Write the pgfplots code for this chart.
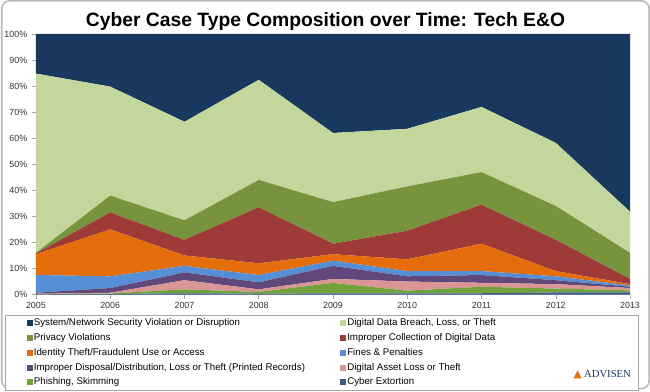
\documentclass[border=0pt]{standalone}
\usepackage{pgfplots}
\pgfplotsset{compat=1.18}
\usepackage{pgfplotstable}
\usepackage{fontspec}
\setmainfont{Liberation Sans}
\newfontfamily\dejavu{DejaVu Sans}
\newfontfamily\serifx{Liberation Serif}
\definecolor{cSN}{HTML}{18385E}
\definecolor{cDDB}{HTML}{C3D69B}
\definecolor{cPV}{HTML}{77933C}
\definecolor{cIC}{HTML}{9E3A38}
\definecolor{cIT}{HTML}{E46C0A}
\definecolor{cFi}{HTML}{558ED5}
\definecolor{cID}{HTML}{60497A}
\definecolor{cDA}{HTML}{D99694}
\definecolor{cPh}{HTML}{71A23C}
\definecolor{cCE}{HTML}{3F5F8A}
\pgfplotstableread{
year CE  Ph  DA  ID  Fi  IT   IC   PV   DDB  SN
2005 0.1 0.1 0.1 0.4 6.8 8.0  0.3  0.2  68.8 15.2
2006 0.2 0.2 0.3 1.8 4.5 18.0 6.5  6.5  41.8 20.2
2007 0.5 1.5 3.5 3.0 2.5 4.0  6.0  7.5  37.8 33.7
2008 0.3 0.7 1.0 2.7 2.8 4.5  21.5 10.5 38.4 17.6
2009 0.5 4.0 1.5 5.0 2.0 2.5  4.0  16.0 26.5 38.0
2010 0.5 1.0 3.5 2.0 2.0 4.5  11.0 17.0 22.1 36.4
2011 0.5 2.5 1.5 3.0 1.5 10.5 15.0 12.5 25.0 28.0
2012 0.8 1.5 1.7 1.5 1.5 2.0  12.0 13.0 24.2 41.8
2013 0.8 0.8 0.9 0.5 0.5 0.5  2.0  10.0 15.8 68.2
}\data
\pgfplotsset{sq/.style={legend image code/.code={\fill[##1] (0pt,-2.2pt) rectangle (4.4pt,2.2pt);}}}
\begin{document}
\begin{tikzpicture}
\draw[gray!55, line width=1.2pt, rounded corners=6pt] (0.6pt,-0.6pt) rectangle (486.9pt,-291.9pt);
\node[font=\bfseries\fontsize{14.5}{16}\selectfont] at (243.75pt,-16.5pt) {Cyber Case Type Composition over Time: Tech E\&O};
\begin{axis}[
  at={(26.25pt,-221.25pt)}, anchor=south west,
  scale only axis, width=446.25pt, height=195.75pt,
  xmin=2005, xmax=2013, ymin=0, ymax=100,
  stack plots=y,
  axis x line*=bottom, axis y line*=left,
  axis line style={gray!70, -},
  tick style={gray!70, thin}, major tick length=3pt, tick align=outside,
  xtick={2005,2006,2007,2008,2009,2010,2011,2012,2013},
  xticklabels={2005,2006,2007,2008,2009,2010,2011,2012,2013},
  ytick={0,10,20,30,40,50,60,70,80,90,100},
  yticklabels={0\%,10\%,20\%,30\%,40\%,50\%,60\%,70\%,80\%,90\%,100\%},
  tick label style={font=\fontsize{6.7}{7}\selectfont, color=black!80},
  xticklabel style={yshift=1pt},
  legend columns=2, legend cell align=left,
  legend style={at={(-0.0521,-0.0766)}, anchor=north west, draw=gray!70, line width=0.6pt,
    inner xsep=16pt, inner ysep=1.8pt, row sep=2.1pt,
    font=\fontsize{7.3}{8}\selectfont,
    nodes={inner sep=1pt, text height=5.4pt, text depth=1.6pt}},
]
\addlegendimage{sq, fill=cSN, draw=none}
\addlegendentry{\makebox[229pt][l]{System/Network Security Violation or Disruption}}
\addlegendimage{sq, fill=cDDB, draw=none}
\addlegendentry{\makebox[202pt][l]{Digital Data Breach, Loss, or Theft}}
\addlegendimage{sq, fill=cPV, draw=none}
\addlegendentry{\makebox[229pt][l]{Privacy Violations}}
\addlegendimage{sq, fill=cIC, draw=none}
\addlegendentry{\makebox[202pt][l]{Improper Collection of Digital Data}}
\addlegendimage{sq, fill=cIT, draw=none}
\addlegendentry{\makebox[229pt][l]{Identity Theft/Fraudulent Use or Access}}
\addlegendimage{sq, fill=cFi, draw=none}
\addlegendentry{\makebox[202pt][l]{Fines \& Penalties}}
\addlegendimage{sq, fill=cID, draw=none}
\addlegendentry{\makebox[229pt][l]{Improper Disposal/Distribution, Loss or Theft (Printed Records)}}
\addlegendimage{sq, fill=cDA, draw=none}
\addlegendentry{\makebox[202pt][l]{Digital Asset Loss or Theft}}
\addlegendimage{sq, fill=cPh, draw=none}
\addlegendentry{\makebox[229pt][l]{Phishing, Skimming}}
\addlegendimage{sq, fill=cCE, draw=none}
\addlegendentry{\makebox[202pt][l]{Cyber Extortion}}
\addplot[fill=cCE, draw=none] table[x=year, y=CE] {\data} \closedcycle;
\addplot[fill=cPh, draw=none] table[x=year, y=Ph] {\data} \closedcycle;
\addplot[fill=cDA, draw=none] table[x=year, y=DA] {\data} \closedcycle;
\addplot[fill=cID, draw=none] table[x=year, y=ID] {\data} \closedcycle;
\addplot[fill=cFi, draw=none] table[x=year, y=Fi] {\data} \closedcycle;
\addplot[fill=cIT, draw=none] table[x=year, y=IT] {\data} \closedcycle;
\addplot[fill=cIC, draw=none] table[x=year, y=IC] {\data} \closedcycle;
\addplot[fill=cPV, draw=none] table[x=year, y=PV] {\data} \closedcycle;
\addplot[fill=cDDB, draw=none] table[x=year, y=DDB] {\data} \closedcycle;
\addplot[fill=cSN, draw=none] table[x=year, y=SN] {\data} \closedcycle;
\end{axis}
\node[anchor=west, inner sep=0pt] at (430pt,-281.5pt) {{\dejavu\fontsize{8}{9}\selectfont\color{cIT}▲}\,{\serifx\fontsize{8}{9}\selectfont\color{cSN}ADVISEN}};
\end{tikzpicture}
\end{document}
